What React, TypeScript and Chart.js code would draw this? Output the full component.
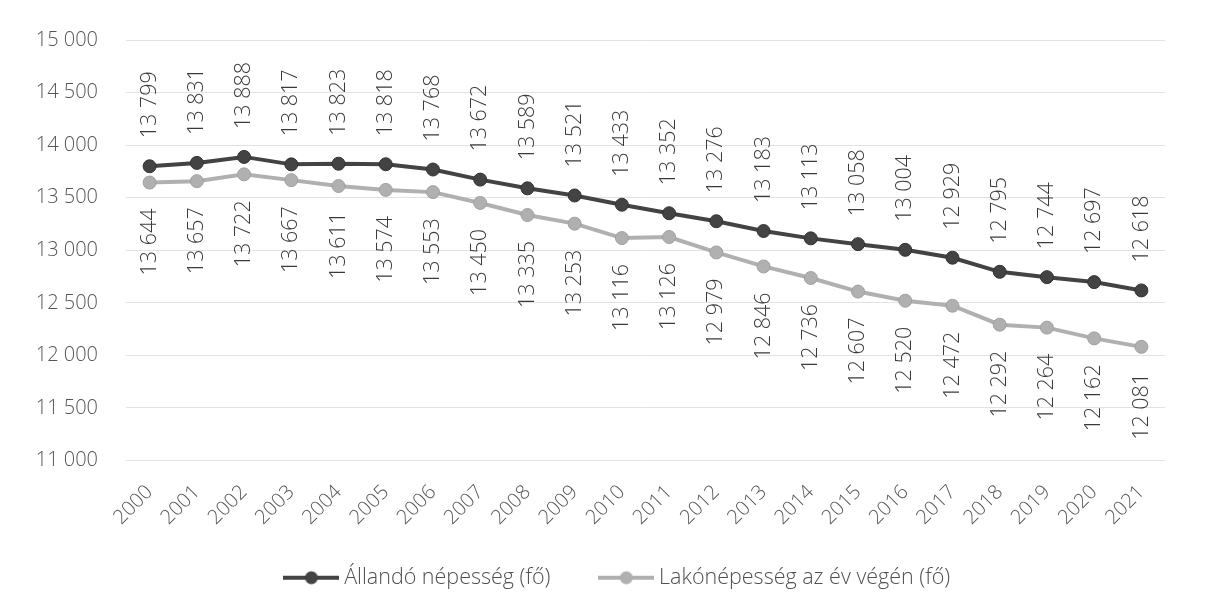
import React, { useEffect, useRef } from "react";
import { Chart, registerables } from "chart.js";

Chart.register(...registerables);

const years = ["2000","2001","2002","2003","2004","2005","2006","2007","2008","2009","2010","2011","2012","2013","2014","2015","2016","2017","2018","2019","2020","2021"];
const allando = [13799,13831,13888,13817,13823,13818,13768,13672,13589,13521,13433,13352,13276,13183,13113,13058,13004,12929,12795,12744,12697,12618];
const lako = [13644,13657,13722,13667,13611,13574,13553,13450,13335,13253,13116,13126,12979,12846,12736,12607,12520,12472,12292,12264,12162,12081];
const seriesNames = ["Állandó népesség (fő)", "Lakónépesség az év végén (fő)"];

const DARK = "#434343";
const LIGHT = "#b0b0b0";
const FONT = "'Open Sans', sans-serif";

const fmt = (v: number) => String(Math.round(v)).replace(/\B(?=(\d{3})+(?!\d))/g, " ");

function makeLegendIcon(color: string, w: number) {
  const c = document.createElement("canvas");
  c.width = w;
  c.height = 16;
  const ctx = c.getContext("2d")!;
  ctx.strokeStyle = color;
  ctx.lineWidth = 4;
  ctx.beginPath();
  ctx.moveTo(0, 8);
  ctx.lineTo(w, 8);
  ctx.stroke();
  ctx.fillStyle = color;
  ctx.beginPath();
  ctx.arc(w / 2, 8, 6.5, 0, Math.PI * 2);
  ctx.fill();
  return c;
}

const labelPlugin = {
  id: "rotLabels",
  afterDatasetsDraw(chart: any) {
    const ctx = chart.ctx;
    chart.data.datasets.forEach((ds: any, di: number) => {
      const meta = chart.getDatasetMeta(di);
      meta.data.forEach((pt: any, i: number) => {
        const v = ds.data[i];
        ctx.save();
        ctx.font = `300 21.5px ${FONT}`;
        ctx.fillStyle = "#3a3a3a";
        ctx.textBaseline = "middle";
        if (di === 0) {
          ctx.translate(pt.x, pt.y - 28);
          ctx.rotate(-Math.PI / 2);
          ctx.textAlign = "left";
        } else {
          ctx.translate(pt.x, pt.y + 26);
          ctx.rotate(-Math.PI / 2);
          ctx.textAlign = "right";
        }
        ctx.fillText(fmt(v), 0, 0);
        ctx.restore();
      });
    });
  },
};

// Shift the legend box so it sits where the reference places it.
const legendShift = {
  id: "legendShift",
  afterLayout(chart: any) {
    const lg = chart.legend;
    if (!lg) return;
    const dx = 37.25;
    const dy = 513 - lg.top;
    lg.left += dx;
    lg.right += dx;
    lg.top += dy;
    lg.bottom += dy;
  },
};

export default function App() {
  const ref = useRef<HTMLCanvasElement>(null);
  useEffect(() => {
    const icons = [makeLegendIcon(DARK, 56), makeLegendIcon(LIGHT, 56)];
    const chart = new Chart(ref.current!, {
      type: "line",
      data: {
        labels: years,
        datasets: [
          {
            label: seriesNames[0],
            data: allando,
            borderColor: DARK,
            backgroundColor: DARK,
            borderWidth: 4,
            pointRadius: 6.5,
            pointBackgroundColor: DARK,
            pointBorderColor: "#333333",
            pointBorderWidth: 1,
            pointStyle: "circle",
          },
          {
            label: seriesNames[1],
            data: lako,
            borderColor: LIGHT,
            backgroundColor: LIGHT,
            borderWidth: 4,
            pointRadius: 6.5,
            pointBackgroundColor: LIGHT,
            pointBorderColor: "#a0a0a0",
            pointBorderWidth: 1,
            pointStyle: "circle",
          },
        ],
      },
      options: {
        animation: false,
        responsive: false,
        maintainAspectRatio: false,
        layout: { padding: { top: 40, right: 44, bottom: -9, left: 0 } },
        plugins: {
          tooltip: { enabled: false },
          legend: {
            position: "bottom",
            labels: {
              color: "#505050",
              font: { family: FONT, size: 21.5, weight: 300 as any },
              usePointStyle: true,
              pointStyleWidth: 44,
              boxHeight: 16,
              padding: 54,
              generateLabels: (ch: any) =>
                ch.data.datasets.map((ds: any, i: number) => ({
                  text: ds.label,
                  fillStyle: ds.borderColor,
                  strokeStyle: ds.borderColor,
                  lineWidth: 0,
                  pointStyle: icons[i],
                  datasetIndex: i,
                  hidden: false,
                  fontColor: "#505050",
                })),
            },
          },
        },
        scales: {
          x: {
            offset: true,
            grid: { display: false, drawTicks: false },
            border: { display: false },
            ticks: {
              color: "#555555",
              font: { family: FONT, size: 20, weight: 300 as any },
              minRotation: 45,
              maxRotation: 45,
              padding: 20,
              autoSkip: false,
            },
            afterFit: (s: any) => {
              s.height = 72;
            },
          },
          y: {
            min: 11000,
            max: 15000,
            grid: { color: "#e2e2e2", lineWidth: 1, drawTicks: false },
            border: { display: false },
            ticks: {
              stepSize: 500,
              color: "#555555",
              font: { family: FONT, size: 20, weight: 300 as any },
              padding: 28,
              callback: (v: any) => fmt(Number(v)),
            },
            afterFit: (s: any) => {
              s.width = 126;
            },
          },
        },
      },
      plugins: [labelPlugin, legendShift],
    });
    return () => chart.destroy();
  }, []);
  return (
    <div style={{ position: "fixed", left: 0, top: 0, width: 1209, height: 609, background: "#fff" }}>
      <canvas ref={ref} width={1209} height={609} style={{ display: "block" }} />
    </div>
  );
}
